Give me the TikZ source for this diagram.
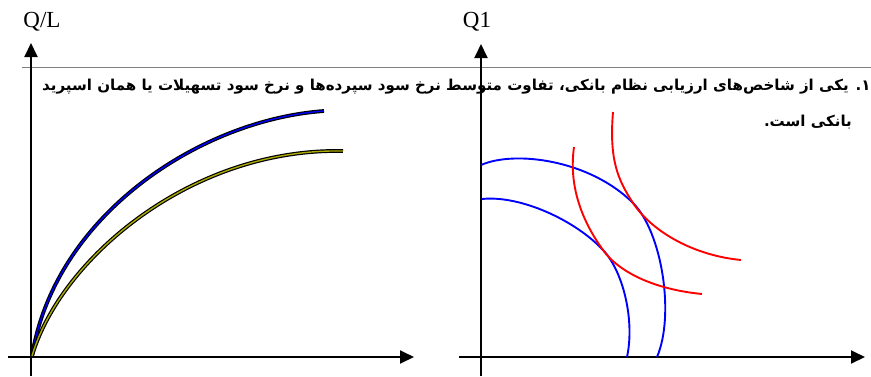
\documentclass[tikz,border=0pt]{standalone}
\usepackage{fontspec}
\setmainfont{Liberation Serif}
\newfontfamily\arabicfont[Script=Arabic]{DejaVu Sans}
\TeXXeTstate=1
\usetikzlibrary{arrows.meta}
\definecolor{olivecurve}{RGB}{170,170,0}
\begin{document}
\begin{tikzpicture}[x=1pt,y=-1pt,
  axis/.style={line width=1.9pt,-{Triangle[length=14pt,width=13pt]}},
  bluecurve/.style={line width=1.2pt,draw=black,double=blue,double distance=1.4pt},
  olcurve/.style={line width=1.2pt,draw=black,double=olivecurve,double distance=1.4pt},
  ppf/.style={line width=1.9pt,draw=blue},
  iso/.style={line width=1.9pt,draw=red},
  lbl/.style={font=\fontsize{23}{26}\selectfont,inner sep=0pt},
  fa/.style={font=\arabicfont\bfseries\fontsize{15.05}{18}\selectfont,inner sep=0pt}]
\useasboundingbox (0,0) rectangle (871,376);
% separator
\coordinate (s1) at (22,67); \coordinate (s2) at (875,67);
\draw[gray,line width=0.8pt] (s1) -- (s2);
% text
\node[fa,anchor=base east] (t1) at (871,90) {\beginR ۱. یکی از شاخص‌های ارزیابی نظام بانکی، تفاوت متوسط نرخ سود سپرده‌ها و نرخ سود تسهیلات یا همان اسپرید\endR};
\node[fa,anchor=base east] (t2) at (852,126) {\beginR بانکی است.\endR};
% left chart
\coordinate (lyb) at (31,376); \coordinate (lyt) at (31,43);
\coordinate (lxl) at (8,357); \coordinate (lxr) at (414,357);
\draw[axis] (lyb) -- (lyt);
\draw[axis] (lxl) -- (lxr);
\node[lbl] (ql) at (42,22) {Q/L};
\coordinate (lo) at (32,356);
\coordinate (be) at (324,111);
\coordinate (oe) at (343,151);
\draw[bluecurve] (lo) .. controls (55,215) and (200,120) .. (be);
\draw[olcurve] (lo) .. controls (60,260) and (190,148) .. (oe);
% right chart
\coordinate (ryb) at (481,376); \coordinate (ryt) at (481,44);
\coordinate (rxl) at (459,357); \coordinate (rxr) at (865,357);
\draw[axis] (ryb) -- (ryt);
\draw[axis] (rxl) -- (rxr);
\node[lbl] (q1) at (477,22) {Q1};
% production possibility curves
\coordinate (b1s) at (481,165); \coordinate (b1m) at (633,203); \coordinate (b1e) at (657,357);
\draw[ppf] (b1s) .. controls (515,150) and (590,160) .. (b1m) .. controls (662,232) and (675,315) .. (b1e);
\coordinate (b2s) at (482,199); \coordinate (b2m) at (603,250); \coordinate (b2e) at (627,357);
\draw[ppf] (b2s) .. controls (520,195) and (575,220) .. (b2m) .. controls (623,271) and (635,320) .. (b2e);
% indifference curves
\coordinate (r1s) at (574,147); \coordinate (r1e) at (702,294);
\draw[iso] (r1s) .. controls (568,190) and (585,225) .. (b2m) .. controls (621,275) and (660,290) .. (r1e);
\coordinate (r2s) at (613,112); \coordinate (r2e) at (741,260);
\draw[iso] (r2s) .. controls (609,160) and (618,180) .. (b1m) .. controls (650,229) and (690,255) .. (r2e);
\end{tikzpicture}
\end{document}
